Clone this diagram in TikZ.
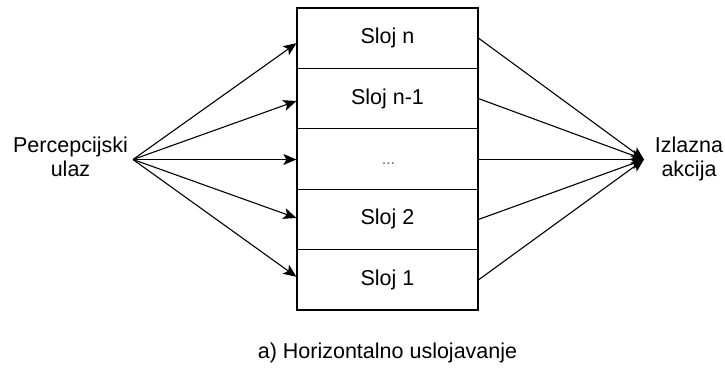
\documentclass[tikz,border=0pt]{standalone}
\usepackage{fontspec}
\setmainfont{Liberation Sans}
\usetikzlibrary{arrows.meta}
\begin{document}
\begin{tikzpicture}[x=1pt,y=-1pt,
  lbl/.style={font=\fontsize{21.5}{24}\selectfont, inner sep=0pt, align=center, text=black},
  row/.style={draw=black, line width=1.2pt, minimum width=181pt, minimum height=60.4pt, inner sep=0pt, font=\fontsize{21.5}{24}\selectfont},
  conn/.style={draw=black, line width=1.1pt},
  arr/.style={conn, -{Stealth[length=13pt,width=11pt,inset=3pt]}}
]
\useasboundingbox (0,0) rectangle (725,367);
\node[row] (r5) at (387.5,38.2) {Sloj n};
\node[row] (r4) at (387.5,98.6) {Sloj n-1};
\node[row] (r3) at (387.5,159) {};
\node[font=\fontsize{16}{18}\selectfont, text=black!60, inner sep=0pt, anchor=base] (dots) at (388.5,164.5) {...};
\node[row] (r2) at (387.5,219.4) {Sloj 2};
\node[row] (r1) at (387.5,279.8) {Sloj 1};
\node[lbl] (in) at (70.5,157) {Percepcijski\\ulaz};
\node[lbl] (out) at (689,159.4) {Izlazna\\akcija};
\node[lbl, anchor=base] (cap) at (387.5,358.5) {a) Horizontalno uslojavanje};
\coordinate (src) at (133,159.5);
\coordinate (dst) at (644,159.5);
\draw[arr] (src) -- ([yshift=-5pt]r5.west);
\draw[arr] (src) -- ([yshift=-2.4pt]r4.west);
\draw[arr] (src) -- ([yshift=-0.5pt]r3.west);
\draw[arr] (src) -- ([yshift=1.4pt]r2.west);
\draw[arr] (src) -- ([yshift=3pt]r1.west);
\draw[arr] (r5.east) -- (dst);
\draw[arr] (r4.east) -- (dst);
\draw[arr] ([yshift=-0.5pt]r3.east) -- (dst);
\draw[arr] (r2.east) -- (dst);
\draw[arr] (r1.east) -- (dst);
\end{tikzpicture}
\end{document}
